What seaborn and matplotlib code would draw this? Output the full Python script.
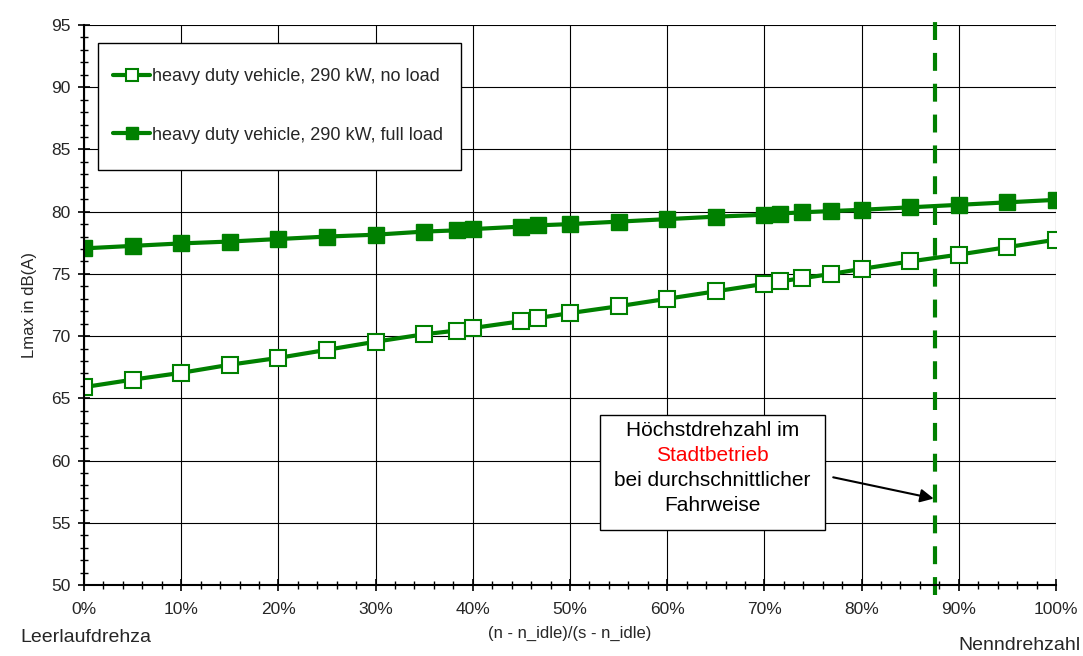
import numpy as np
import pandas as pd
import matplotlib
matplotlib.use("Agg")
import matplotlib.pyplot as plt
import seaborn as sns
from matplotlib.ticker import MultipleLocator, PercentFormatter
from matplotlib.patches import Rectangle

sns.set_style("white")
plt.rcParams["font.family"] = ["Liberation Sans", "DejaVu Sans"]

GREEN = "#008000"

# relative engine speed (%) and Lmax in dB(A)
speed = [0, 5, 10, 15, 20, 25, 30, 35, 38.4, 40, 45, 46.7, 50, 55, 60,
         65, 70, 71.6, 73.9, 76.9, 80, 85, 90, 95, 100]
lmax_no_load = [65.9, 66.5, 67.05, 67.7, 68.25, 68.9, 69.55, 70.15, 70.45, 70.65,
                71.2, 71.45, 71.85, 72.4, 73.0, 73.6, 74.2, 74.4, 74.65, 75.0,
                75.4, 76.0, 76.55, 77.15, 77.75]
lmax_full_load = [77.05, 77.25, 77.45, 77.6, 77.8, 78.0, 78.15, 78.4, 78.5, 78.6,
                  78.8, 78.9, 79.0, 79.2, 79.4, 79.6, 79.75, 79.85, 79.95, 80.05,
                  80.15, 80.35, 80.55, 80.75, 80.95]
labels = ["heavy duty vehicle, 290 kW, no load",
          "heavy duty vehicle, 290 kW, full load"]
city_max_speed = 87.6

df = pd.DataFrame({"speed": speed, "no_load": lmax_no_load, "full_load": lmax_full_load})

W, H = 1083, 656
fig = plt.figure(figsize=(W / 100, H / 100), dpi=100)
ax = fig.add_axes([84 / W, 1 - 585 / H, 972 / W, 560 / H])

sns.lineplot(data=df, x="speed", y="no_load", ax=ax, color=GREEN, lw=3,
             marker="s", markersize=11, markerfacecolor="white",
             markeredgecolor=GREEN, markeredgewidth=1.5, label=labels[0], zorder=4)
sns.lineplot(data=df, x="speed", y="full_load", ax=ax, color=GREEN, lw=3,
             marker="s", markersize=11, markerfacecolor=GREEN,
             markeredgecolor=GREEN, markeredgewidth=1.0, label=labels[1], zorder=4)

ax.plot([city_max_speed, city_max_speed], [49.2, 96.2], color=GREEN, lw=3,
        dashes=(4.3, 3.1), clip_on=False, zorder=5)

ax.set_xlim(0, 100)
ax.set_ylim(50, 95)
ax.xaxis.set_major_locator(MultipleLocator(10))
ax.xaxis.set_minor_locator(MultipleLocator(2))
ax.yaxis.set_major_locator(MultipleLocator(5))
ax.yaxis.set_minor_locator(MultipleLocator(1))
ax.xaxis.set_major_formatter(PercentFormatter(decimals=0))
ax.grid(True, which="major", color="black", lw=0.8)
ax.set_axisbelow(True)
for s in ["top", "right"]:
    ax.spines[s].set_visible(False)
for s in ["left", "bottom"]:
    ax.spines[s].set_color("black")
    ax.spines[s].set_linewidth(1.5)
    ax.spines[s].set_zorder(6)
ax.tick_params(which="both", bottom=True, left=True, top=False, right=False)
ax.tick_params(which="major", direction="inout", length=9, width=1.2,
               color="black", labelsize=12.5)
ax.tick_params(which="minor", direction="inout", length=6, width=1.0, color="black")
ax.tick_params(axis="x", which="major", pad=8)
ax.tick_params(axis="y", which="major", pad=5)

ax.set_xlabel("(n - n_idle)/(s - n_idle)", fontsize=12, labelpad=6)
ax.set_ylabel("Lmax in dB(A)", fontsize=12, labelpad=10)
fig.text(20 / W, 1 - 637 / H, "Leerlaufdrehza", fontsize=14, ha="left", va="center")
fig.text(1080 / W, 1 - 645 / H, "Nenndrehzahl", fontsize=14, ha="right", va="center")

# legend: frame drawn by hand, entries placed inside it
ax.add_patch(Rectangle(((98 - 84) / 972, (585 - 170) / 560), 363 / 972, 127 / 560,
                       transform=ax.transAxes, facecolor="white", edgecolor="black",
                       lw=1.0, zorder=7))
leg = ax.legend(loc="upper left", bbox_to_anchor=((113 - 84) / 972, (585 - 68) / 560),
                fontsize=13, frameon=False, labelspacing=2.3, borderpad=0,
                handlelength=2.05, handletextpad=0.1, markerscale=0.75,
                borderaxespad=0)
leg.set_zorder(8)

# annotation box
ax.add_patch(Rectangle((53.1, 54.4), 23.1, 9.25, facecolor="white",
                       edgecolor="black", lw=1.0, zorder=7))
box_lines = [("Höchstdrehzahl im", "black", 62.45),
             ("Stadtbetrieb", "red", 60.4),
             ("bei durchschnittlicher", "black", 58.4),
             ("Fahrweise", "black", 56.4)]
for txt, col, yy in box_lines:
    ax.text(64.65, yy, txt, color=col, fontsize=15, ha="center", va="center", zorder=8)
ax.annotate("", xy=(87.7, 56.9), xytext=(76.8, 58.7),
            arrowprops=dict(arrowstyle="-|>", color="black", lw=1.5,
                            mutation_scale=20), zorder=8)

fig.savefig("out.png", dpi=100)
